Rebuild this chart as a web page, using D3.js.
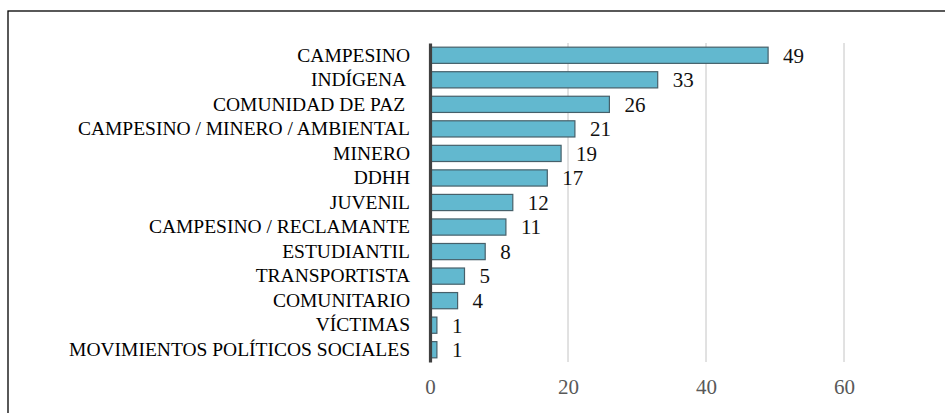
<!DOCTYPE html>
<html><head><meta charset="utf-8">
<script src="https://cdn.jsdelivr.net/npm/d3@7"></script>
<style>body{margin:0;background:#fff}svg{display:block}</style>
</head><body style="font-family:'Liberation Serif'">
<script>
const categories = ["CAMPESINO","INDÍGENA ","COMUNIDAD DE PAZ ","CAMPESINO / MINERO / AMBIENTAL","MINERO","DDHH","JUVENIL","CAMPESINO / RECLAMANTE","ESTUDIANTIL","TRANSPORTISTA","COMUNITARIO","VÍCTIMAS","MOVIMIENTOS POLÍTICOS SOCIALES"];
const values = [49,33,26,21,19,17,12,11,8,5,4,1,1];
const tickValues = [0,20,40,60];

const W=945,H=413;
const svg=d3.select("body").append("svg").attr("width",W).attr("height",H);
svg.append("rect").attr("x",8).attr("y",11).attr("width",1000).attr("height",600)
  .attr("fill","none").attr("stroke","#000").attr("stroke-width",1.3);

const x=d3.scaleLinear().domain([0,60]).range([430,844]);
const y=d3.scaleBand().domain(categories).range([43,362]).paddingInner(0.34).paddingOuter(0.17);

// gridlines
svg.append("g").selectAll("line").data(tickValues.filter(d=>d>0)).join("line")
  .attr("x1",d=>x(d)).attr("x2",d=>x(d)).attr("y1",43).attr("y2",362)
  .attr("stroke","#c4c4c4").attr("stroke-width",1);

// x axis labels
const xa=svg.append("g").attr("transform","translate(0,362)")
  .call(d3.axisBottom(x).tickValues(tickValues).tickSize(0).tickPadding(17));
xa.select(".domain").remove();
xa.attr("font-family","Times New Roman").attr("font-size",21);
xa.selectAll("text").attr("fill","#595959");

// bars
svg.append("g").selectAll("rect").data(values).join("rect")
  .attr("x",x(0)).attr("y",(d,i)=>y(categories[i]))
  .attr("width",d=>x(d)-x(0)).attr("height",y.bandwidth())
  .attr("fill","#62b8cf").attr("stroke","#46606a").attr("stroke-width",1.2);

// value labels
svg.append("g").attr("font-family","Times New Roman").attr("font-size",21)
  .selectAll("text").data(values).join("text")
  .attr("x",d=>x(d)+15).attr("y",(d,i)=>y(categories[i])+y.bandwidth()/2)
  .attr("dy","0.35em").attr("fill","#111")
  .text(d=>d);

// y axis
const ya=svg.append("g").attr("transform","translate(430,0)")
  .call(d3.axisLeft(y).tickSize(0).tickPadding(20));
ya.attr("font-family","Times New Roman").attr("font-size",19.5);
ya.select(".domain").attr("stroke","#404040").attr("stroke-width",3.2);
ya.selectAll("text").attr("fill","#000").style("white-space","pre");
</script>
</body></html>
